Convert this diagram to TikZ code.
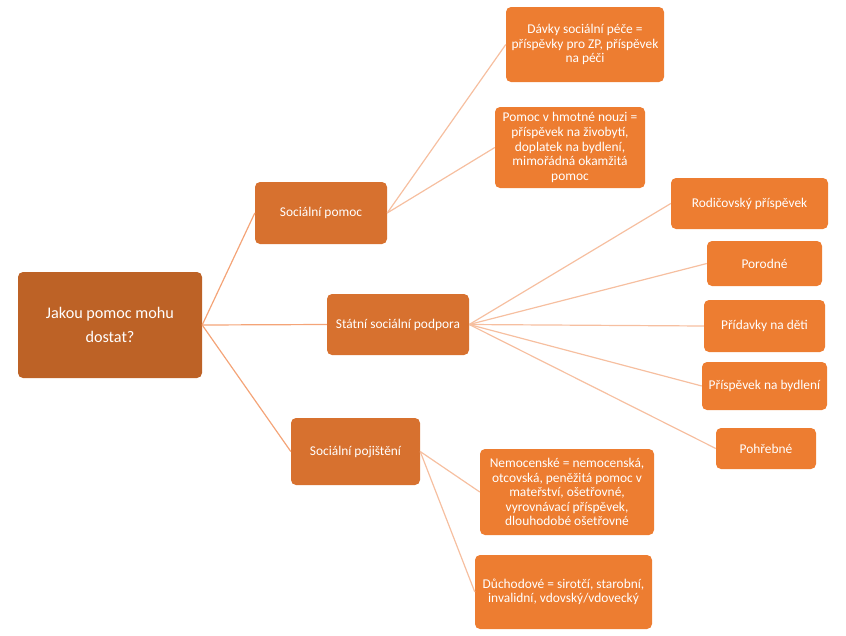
\documentclass[tikz,border=0pt]{standalone}
\usepackage{fontspec}
\setmainfont{Carlito}
\definecolor{rootc}{HTML}{BD6226}
\definecolor{midc}{HTML}{D7712F}
\definecolor{leafc}{HTML}{ED7D31}
\definecolor{linea}{HTML}{F4A478}
\definecolor{lineb}{HTML}{F6BFA0}
\tikzset{
  box/.style={rounded corners=5pt, inner sep=0pt, text=white, align=center, font=\fontsize{13.4}{14.6}\selectfont},
  rootbox/.style={box, fill=rootc, font=\fontsize{16.2}{24.5}\selectfont},
  midbox/.style={box, fill=midc},
  leafbox/.style={box, fill=leafc},
  linkA/.style={draw=linea, line width=1.2pt},
  linkB/.style={draw=lineb, line width=1.2pt},
}
\begin{document}
\begin{tikzpicture}[x=1pt,y=-1pt]
\useasboundingbox (0,0) rectangle (846,635);
\node[rootbox, minimum width=184pt, minimum height=106pt] (root) at (110,325) {Jakou pomoc mohu\\dostat?};
\node[midbox, minimum width=132pt, minimum height=62pt] (sp) at (321,213) {Sociální pomoc};
\node[midbox, minimum width=142pt, minimum height=61pt] (ssp) at (398,324.5) {Státní sociální podpora};
\node[midbox, minimum width=129pt, minimum height=67pt] (spoj) at (355.5,451.5) {Sociální pojištění};
\node[leafbox, minimum width=158pt, minimum height=75pt] (davky) at (585,44.5) {Dávky sociální péče =\\příspěvky pro ZP, příspěvek\\na péči};
\node[leafbox, minimum width=150pt, minimum height=81pt] (hmot) at (570,147.5) {Pomoc v hmotné nouzi =\\příspěvek na živobytí,\\doplatek na bydlení,\\mimořádná okamžitá\\pomoc};
\node[leafbox, minimum width=157pt, minimum height=51pt] (rodic) at (749.5,203.5) {Rodičovský příspěvek};
\node[leafbox, minimum width=115pt, minimum height=45pt] (porod) at (764.5,263.5) {Porodné};
\node[leafbox, minimum width=121pt, minimum height=52pt] (pridav) at (764.5,326) {Přídavky na děti};
\node[leafbox, minimum width=125pt, minimum height=48pt] (bydl) at (764.5,386) {Příspěvek na bydlení};
\node[leafbox, minimum width=100pt, minimum height=41pt] (pohr) at (766,448.5) {Pohřebné};
\node[leafbox, minimum width=174pt, minimum height=86pt] (nemoc) at (567,492) {Nemocenské = nemocenská,\\otcovská, peněžitá pomoc v\\mateřství, ošetřovné,\\vyrovnávací příspěvek,\\dlouhodobé ošetřovné};
\node[leafbox, minimum width=177pt, minimum height=74pt] (duch) at (563.5,592) {Důchodové = sirotčí, starobní,\\invalidní, vdovský/vdovecký};
\draw[linkA] (root.east) -- (sp.west);
\draw[linkA] (root.east) -- (ssp.west);
\draw[linkA] (root.east) -- (spoj.west);
\draw[linkB] (sp.east) -- (davky.west);
\draw[linkB] (sp.east) -- (hmot.west);
\draw[linkB] (ssp.east) -- (rodic.west);
\draw[linkB] (ssp.east) -- (porod.west);
\draw[linkB] (ssp.east) -- (pridav.west);
\draw[linkB] (ssp.east) -- (bydl.west);
\draw[linkB] (ssp.east) -- (pohr.west);
\draw[linkB] (spoj.east) -- (nemoc.west);
\draw[linkB] (spoj.east) -- (duch.west);
\end{tikzpicture}
\end{document}
